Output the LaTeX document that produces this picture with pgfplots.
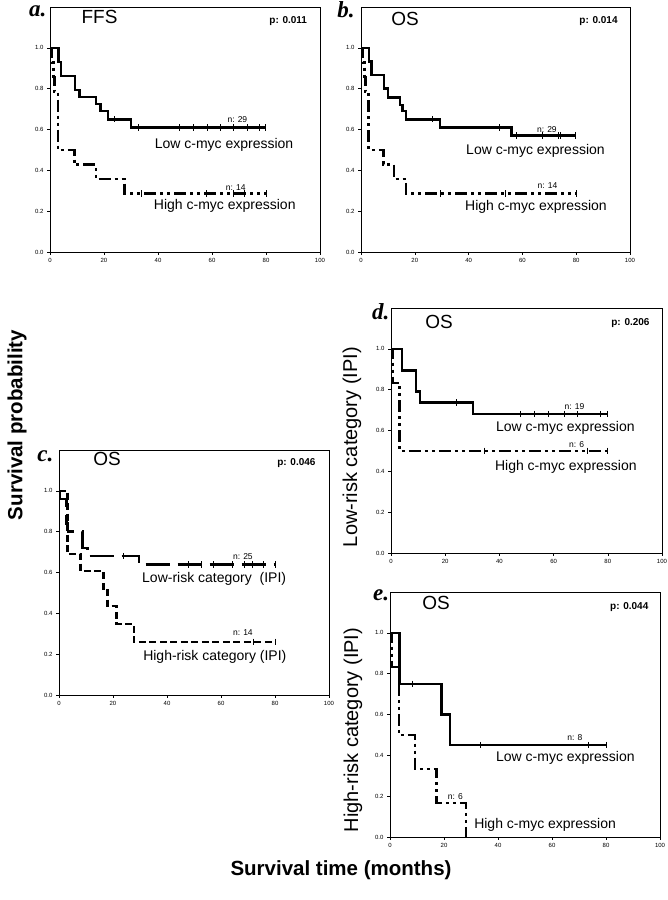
\documentclass[border=0pt]{standalone}
\usepackage{pgfplots}
\pgfplotsset{compat=1.18}
\usepackage{fontspec}
\setmainfont{Liberation Sans}
\newfontfamily\serifbi{Liberation Serif}[BoldItalicFont={* Bold Italic}]
\pgfplotsset{
  km/.style={
    scale only axis, width=270pt, height=245pt,
    xmin=0, xmax=100, ymin=0, ymax=1.2,
    xtick={0,20,40,60,80,100}, ytick={0,0.2,0.4,0.6,0.8,1},
    /pgf/number format/assume math mode=true,
    tick label style={font=\fontsize{6}{7}\selectfont},
    yticklabel style={/pgf/number format/.cd, fixed, fixed zerofill, precision=1},
    xticklabel style={/pgf/number format/.cd, fixed, precision=0},
    tick align=outside, tick pos=left, major tick length=3pt,
    axis line style={line width=0.7pt}, tick style={line width=0.6pt, black},
    clip=false,
  },
}
\tikzset{
  low/.style={black, line width=2.6pt, const plot},
  high/.style={black, line width=2.6pt, const plot, dash pattern=on 12pt off 4pt on 3pt off 4pt on 3pt off 4pt},
  cens/.style={black, only marks, mark=|, mark size=3.2pt, mark options={line width=0.8pt, solid}},
  ttl/.style={anchor=west, font=\fontsize{19}{22}\selectfont},
  pval/.style={anchor=east, font=\fontsize{10}{12}\selectfont\bfseries},
  nlab/.style={font=\fontsize{8.5}{10}\selectfont},
  glab/.style={anchor=west, font=\fontsize{14}{16}\selectfont},
  plab/.style={anchor=base west, inner sep=0pt, font=\fontsize{23}{25}\selectfont\serifbi\bfseries\itshape},
}
\begin{document}
\begin{tikzpicture}[x=1pt,y=1pt]
\useasboundingbox (0,0) rectangle (667,900);

% ---------- a ----------
\begin{axis}[km, at={(50pt,648pt)}, anchor=south west]
\addplot[high] coordinates {(0,1)(0.8,0.929)(1.2,0.857)(1.6,0.786)(3,0.5)(9,0.429)(17,0.357)(27.5,0.286)(80,0.286)};
\addplot[low] coordinates {(0,1)(3.2,0.931)(4,0.862)(9.2,0.793)(11,0.759)(17,0.724)(18.8,0.69)(21.5,0.65)(30,0.61)(80,0.61)};
\addplot[cens] coordinates {(23.8,0.65)(32.7,0.61)(47.9,0.61)(53,0.61)(58.3,0.61)(63,0.61)(67.9,0.61)(73.1,0.61)(77.5,0.61)(79.6,0.61)};
\addplot[cens] coordinates {(34,0.286)(58,0.286)(68,0.286)(72,0.286)(80,0.286)};
\node[ttl] at (axis cs:10.4,1.15) {FFS};
\node[pval] at (axis cs:96.5,1.13) {p: 0.011};
\node[nlab] at (axis cs:69.4,0.647) {n: 29};
\node[glab] at (axis cs:37.5,0.525) {Low c-myc expression};
\node[nlab] at (axis cs:68.8,0.314) {n: 14};
\node[glab] at (axis cs:37.2,0.225) {High c-myc expression};
\node[plab] at (axis cs:-7.8,1.152) {a.};
\end{axis}

% ---------- b ----------
\begin{axis}[km, width=269pt, at={(361pt,648pt)}, anchor=south west]
\addplot[high] coordinates {(0,1)(0.8,0.929)(1.2,0.857)(1.6,0.786)(2.8,0.5)(8.3,0.429)(12.3,0.357)(16.7,0.286)(80,0.286)};
\addplot[low] coordinates {(0,1)(3,0.933)(4,0.867)(8.5,0.8)(10,0.756)(14.5,0.72)(15.4,0.69)(16.7,0.65)(29.4,0.61)(56,0.57)(80,0.57)};
\addplot[cens] coordinates {(26.6,0.65)(51.4,0.61)(57.9,0.57)(67.4,0.57)(73.4,0.57)(74.3,0.57)(79.8,0.57)};
\addplot[cens] coordinates {(29.4,0.286)(53.5,0.286)(80,0.286)};
\node[ttl] at (axis cs:10.0,1.14) {OS};
\node[pval] at (axis cs:96.7,1.13) {p: 0.014};
\node[nlab] at (axis cs:69.1,0.598) {n: 29};
\node[glab] at (axis cs:37.8,0.495) {Low c-myc expression};
\node[nlab] at (axis cs:69.3,0.323) {n: 14};
\node[glab] at (axis cs:37.4,0.22) {High c-myc expression};
\node[plab] at (axis cs:-8.9,1.147) {b.};
\end{axis}

% ---------- c ----------
\begin{axis}[km, at={(59pt,205pt)}, anchor=south west]
\addplot[black, line width=2.6pt, const plot, dash pattern=on 7pt off 3.5pt] coordinates {(0,1)(3.2,0.69)(8,0.607)(16.5,0.52)(18,0.435)(21.3,0.348)(27.8,0.26)(80,0.26)};
\addplot[black, line width=2.6pt, const plot, dash pattern=on 24pt off 8pt] coordinates {(0,1)(0.3,0.96)(2.8,0.84)(3.3,0.80)(8.8,0.72)(10.5,0.68)(29.6,0.64)(80,0.64)};
\addplot[cens] coordinates {(23.7,0.68)(47.8,0.64)(52.7,0.64)(57,0.64)(64.4,0.64)(68.8,0.64)(71.8,0.64)(75.6,0.64)(80,0.64)};
\addplot[cens] coordinates {(71.9,0.26)(80,0.26)};
\node[ttl] at (axis cs:11.4,1.157) {OS};
\node[pval] at (axis cs:96.3,1.138) {p: 0.046};
\node[nlab] at (axis cs:68.1,0.68) {n: 25};
\node[glab] at (axis cs:29.5,0.571) {Low-risk category\ \ (IPI)};
\node[nlab] at (axis cs:68.1,0.305) {n: 14};
\node[glab] at (axis cs:29.9,0.187) {High-risk category (IPI)};
\node[plab] at (axis cs:-8.1,1.143) {c.};
\end{axis}

% ---------- d ----------
\begin{axis}[km, width=271pt, at={(391pt,347pt)}, anchor=south west]
\addplot[high] coordinates {(0,1)(0.8,0.833)(3.2,0.5)(80,0.5)};
\addplot[low] coordinates {(0,1)(4,0.895)(9.2,0.79)(10.7,0.737)(30.2,0.68)(80,0.68)};
\addplot[cens] coordinates {(24,0.737)(47.7,0.68)(53,0.68)(58.1,0.68)(63.9,0.68)(68.8,0.68)(77.2,0.68)(80,0.68)};
\addplot[cens] coordinates {(34.4,0.5)(72.3,0.5)(80,0.5)};
\node[ttl] at (axis cs:11.4,1.13) {OS};
\node[pval] at (axis cs:96.7,1.127) {p: 0.206};
\node[nlab] at (axis cs:67.7,0.716) {n: 19};
\node[glab] at (axis cs:37.5,0.613) {Low c-myc expression};
\node[nlab] at (axis cs:68.5,0.53) {n: 6};
\node[glab] at (axis cs:37.1,0.42) {High c-myc expression};
\node[plab] at (axis cs:-7.0,1.142) {d.};
\end{axis}

% ---------- e ----------
\begin{axis}[km, at={(390pt,63pt)}, anchor=south west]
\addplot[high] coordinates {(0,1)(0.8,0.833)(3.3,0.5)(9.3,0.333)(17.3,0.167)(28.1,0)(28.2,0)};
\addplot[low] coordinates {(0,1)(3.5,0.75)(19,0.6)(22.2,0.45)(80,0.45)};
\addplot[cens] coordinates {(8.4,0.75)(33.3,0.45)(73.5,0.45)(80,0.45)};
\node[ttl] at (axis cs:10.7,1.147) {OS};
\node[pval] at (axis cs:97,1.127) {p: 0.044};
\node[nlab] at (axis cs:68.5,0.485) {n: 8};
\node[glab] at (axis cs:38,0.387) {Low c-myc expression};
\node[nlab] at (axis cs:24.2,0.196) {n: 6};
\node[glab] at (axis cs:29.9,0.059) {High c-myc expression};
\node[plab] at (axis cs:-6.3,1.157) {e.};
\end{axis}

% ---------- shared labels ----------
\node[rotate=90, font=\fontsize{20.5}{24}\selectfont\bfseries] at (17,475) {Survival probability};
\node[font=\fontsize{20.5}{24}\selectfont\bfseries] at (341,30) {Survival time (months)};
\node[rotate=90, font=\fontsize{20}{24}\selectfont] at (352,453) {Low-risk category (IPI)};
\node[rotate=90, font=\fontsize{20}{24}\selectfont] at (353,170) {High-risk category (IPI)};
\end{tikzpicture}
\end{document}
